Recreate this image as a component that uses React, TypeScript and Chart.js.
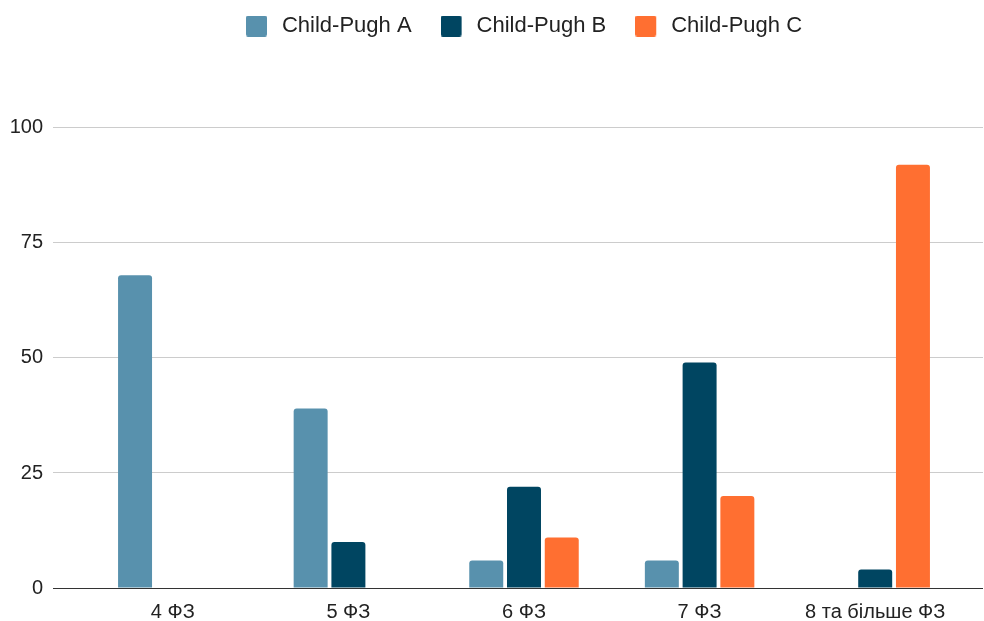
import React, { useEffect, useRef } from "react";
import { Chart, registerables } from "chart.js";

Chart.register(...registerables);

const categories = ["4 ФЗ", "5 ФЗ", "6 ФЗ", "7 ФЗ", "8 та більше ФЗ"];
const seriesNames = ["Child-Pugh A", "Child-Pugh B", "Child-Pugh C"];
const childPughA = [68, 39, 6, 6, 0];
const childPughB = [0, 10, 22, 49, 4];
const childPughC = [0, 0, 11, 20, 92];
const seriesColors = ["#5891ad", "#004561", "#ff6f31"];
const yTicks = [0, 25, 50, 75, 100];
const yAxisMax = 117.6;

const FONT = "'Liberation Sans', Arial, sans-serif";

function makeSwatch(color: string): HTMLCanvasElement {
  const c = document.createElement("canvas");
  c.width = 25;
  c.height = 21;
  const ctx = c.getContext("2d")!;
  ctx.fillStyle = color;
  ctx.beginPath();
  const r = 2;
  const w = 21;
  const h = 21;
  ctx.moveTo(r, 0);
  ctx.lineTo(w - r, 0);
  ctx.quadraticCurveTo(w, 0, w, r);
  ctx.lineTo(w, h - r);
  ctx.quadraticCurveTo(w, h, w - r, h);
  ctx.lineTo(r, h);
  ctx.quadraticCurveTo(0, h, 0, h - r);
  ctx.lineTo(0, r);
  ctx.quadraticCurveTo(0, 0, r, 0);
  ctx.fill();
  return c;
}

export default function App() {
  const canvasRef = useRef<HTMLCanvasElement | null>(null);

  useEffect(() => {
    document.body.style.margin = "0";
    const canvas = canvasRef.current;
    if (!canvas) return;
    const values = [childPughA, childPughB, childPughC];
    const swatches = seriesColors.map(makeSwatch);
    const gridColor = (ctx: any) => (ctx.tick && ctx.tick.value === 0 ? "#333333" : "#cccccc");
    const chart = new Chart(canvas, {
      type: "bar",
      data: {
        labels: categories,
        datasets: seriesNames.map((name, i) => ({
          label: name,
          data: values[i],
          backgroundColor: seriesColors[i],
          borderRadius: 3,
          barPercentage: 0.9,
          categoryPercentage: 0.645,
        })),
      },
      options: {
        animation: false,
        responsive: false,
        maintainAspectRatio: false,
        layout: { padding: { top: -14, left: 0, right: 0, bottom: 0 } },
        plugins: {
          tooltip: { enabled: false },
          legend: {
            position: "top",
            fullSize: false,
            labels: {
              font: { family: FONT, size: 22 },
              color: "#222222",
              usePointStyle: true,
              pointStyleWidth: 25,
              boxHeight: 22,
              padding: 29,
              generateLabels: (ch: any) =>
                Chart.defaults.plugins.legend.labels
                  .generateLabels(ch)
                  .map((l: any, i: number) => ({ ...l, pointStyle: swatches[i] })),
            },
          },
        },
        scales: {
          x: {
            type: "category",
            offset: true,
            grid: { display: false, drawTicks: false },
            border: { display: false },
            ticks: {
              font: { family: FONT, size: 20 },
              color: "#222222",
              padding: 12,
              maxRotation: 0,
              autoSkip: false,
            },
            afterFit: (scale: any) => {
              scale.height = 33;
            },
          },
          y: {
            type: "linear",
            min: 0,
            max: yAxisMax,
            position: "left",
            border: { display: false },
            grid: {
              color: gridColor,
              lineWidth: 1,
              drawTicks: true,
              tickLength: 32,
            },
            ticks: {
              stepSize: 25,
              font: { family: FONT, size: 20 },
              color: "#222222",
              padding: 10,
            },
            afterBuildTicks: (scale: any) => {
              scale.ticks = yTicks.map((v) => ({ value: v }));
            },
            afterFit: (scale: any) => {
              scale.width = 85;
            },
          },
          yR: {
            type: "linear",
            min: 0,
            max: yAxisMax,
            position: "right",
            border: { display: false },
            grid: {
              color: gridColor,
              lineWidth: 1,
              drawOnChartArea: false,
              drawTicks: true,
              tickLength: 20,
            },
            ticks: { display: false },
            afterBuildTicks: (scale: any) => {
              scale.ticks = yTicks.map((v) => ({ value: v }));
            },
            afterFit: (scale: any) => {
              scale.width = 21;
            },
          },
        },
      },
    });
    return () => chart.destroy();
  }, []);

  return (
    <div style={{ width: 984, height: 621, position: "relative", background: "#ffffff" }}>
      <canvas ref={canvasRef} width={984} height={621} style={{ display: "block" }} />
    </div>
  );
}
